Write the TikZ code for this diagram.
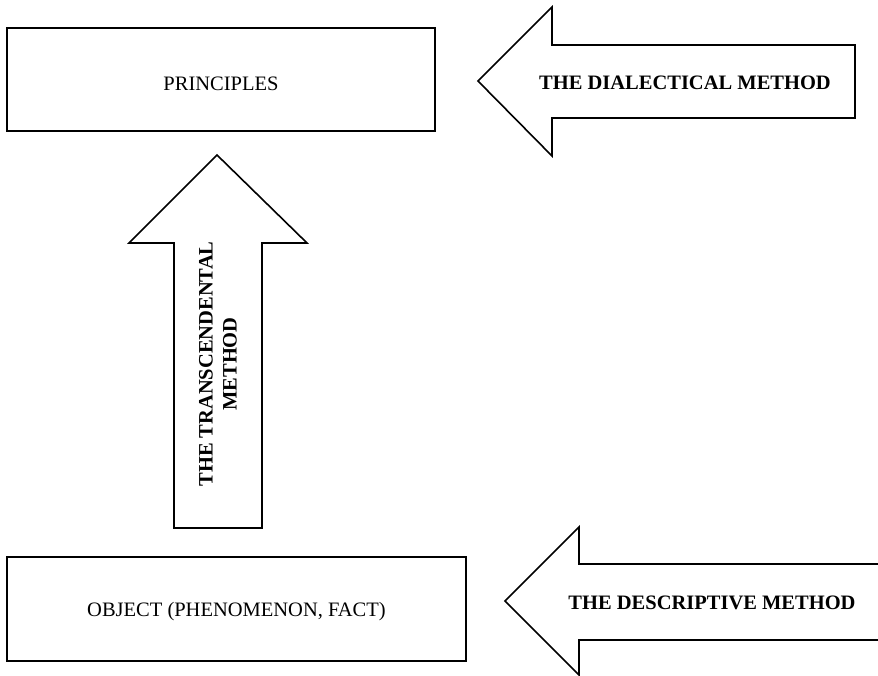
\documentclass[tikz,border=0pt]{standalone}
\usepackage{fontspec}
\setmainfont{Liberation Serif}
\begin{document}
\begin{tikzpicture}[x=1pt,y=-1pt,
  box/.style={draw, line width=2pt, inner sep=0pt},
  blockarrow/.style={draw, line width=1.6pt, line join=miter, fill=white},
  lbl/.style={font=\fontsize{20.5}{24}\selectfont, inner sep=0pt},
  blbl/.style={font=\fontsize{20.5}{24}\selectfont\bfseries, inner sep=0pt, align=center}]
\clip (0,0) rectangle (878,676);
\useasboundingbox (0,0) rectangle (878,676);
% boxes
\node[box, minimum width=428pt, minimum height=103pt] (principles) at (221,79.5) {};
\node[lbl] (ptext) at ([yshift=-4.5pt]principles.center) {PRINCIPLES};
\node[box, minimum width=459pt, minimum height=104pt] (object) at (236.5,609) {};
\node[lbl] (otext) at ([yshift=-3pt]object.center) {OBJECT (PHENOMENON, FACT)};
% dialectical arrow
\draw[blockarrow] (478,81) -- (552,7) -- (552,45) -- (855,45) -- (855,118) -- (552,118) -- (552,156) -- cycle;
\node[blbl] (dialectical) at (685,83) {THE DIALECTICAL METHOD};
% transcendental arrow
\draw[blockarrow] (217,155) -- (307,243) -- (262,243) -- (262,528) -- (174,528) -- (174,243) -- (129,243) -- cycle;
\node[blbl, rotate=90] (transcendental) at (218,364) {THE TRANSCENDENTAL\\METHOD};
% descriptive arrow
\draw[blockarrow] (505,601) -- (579,527) -- (579,564) -- (900,564) -- (900,640) -- (579,640) -- (579,675) -- cycle;
\node[blbl] (descriptive) at (712,603) {THE DESCRIPTIVE METHOD};
\end{tikzpicture}
\end{document}
